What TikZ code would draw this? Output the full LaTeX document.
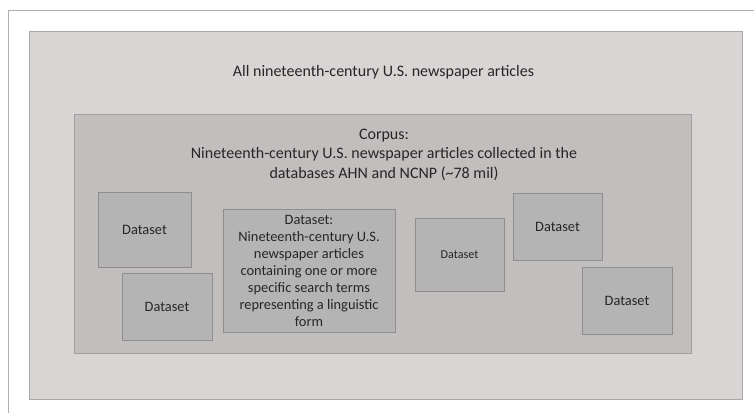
\documentclass[tikz,border=0pt]{standalone}
\usepackage{fontspec}
\setmainfont{Carlito}
\definecolor{pageline}{HTML}{B0B0B0}
\definecolor{outerfill}{HTML}{D8D5D4}
\definecolor{outerdraw}{HTML}{A8A8A8}
\definecolor{innerfill}{HTML}{C1BEBD}
\definecolor{innerdraw}{HTML}{A0A0A0}
\definecolor{dsfill}{HTML}{B4B4B4}
\definecolor{dsdraw}{HTML}{8E8E8E}
\definecolor{txt}{HTML}{262626}
\tikzset{
  plainbox/.style={rectangle, inner sep=0pt, line width=1pt},
  outerbox/.style={plainbox, fill=outerfill, draw=outerdraw},
  innerbox/.style={plainbox, fill=innerfill, draw=innerdraw},
  dsbox/.style={plainbox, fill=dsfill, draw=dsdraw, text=txt, font=\fontsize{14.4}{17}\selectfont, align=center},
  label/.style={inner sep=0pt, text=txt, align=center},
}
\begin{document}
\begin{tikzpicture}[x=1pt,y=-1pt]
\useasboundingbox (0,0) rectangle (754,413);
\fill[white] (0,0) rectangle (754,413);
\coordinate (pbl) at (8.5,413);
\coordinate (ptl) at (8.5,10.5);
\coordinate (ptr) at (754,10.5);
\draw[pageline, line width=1pt] (pbl) -- (ptl) -- (ptr);
\node[outerbox, minimum width=713pt, minimum height=368pt] (outer) at (385.5,215) {};
\node[label, font=\fontsize{16}{19}\selectfont] (title) at (383.5,72) {All nineteenth-century U.S. newspaper articles};
\node[innerbox, minimum width=617pt, minimum height=239pt] (inner) at (382.5,233.5) {};
\node[label, font=\fontsize{16}{19.5}\selectfont] (corpustext) at (384,154.5) {Corpus:\\Nineteenth-century U.S. newspaper articles collected in the\\databases AHN and NCNP (\textasciitilde78 mil)};
\node[dsbox, minimum width=93pt, minimum height=75pt] (d1) at (144.5,229.5) {Dataset};
\node[dsbox, minimum width=90pt, minimum height=67pt] (d2) at (167,306.5) {Dataset};
\node[dsbox, minimum width=172pt, minimum height=123pt] (big) at (309,270.5) {Dataset:\\Nineteenth-century U.S.\\newspaper articles\\containing one or more\\specific search terms\\representing a linguistic\\form};
\node[dsbox, minimum width=89pt, minimum height=73pt, font=\fontsize{12.1}{14}\selectfont] (d3) at (459.5,254.5) {Dataset};
\node[dsbox, minimum width=89pt, minimum height=67pt] (d4) at (557.5,226.5) {Dataset};
\node[dsbox, minimum width=90pt, minimum height=67pt] (d5) at (627,300.5) {Dataset};
\end{tikzpicture}
\end{document}
